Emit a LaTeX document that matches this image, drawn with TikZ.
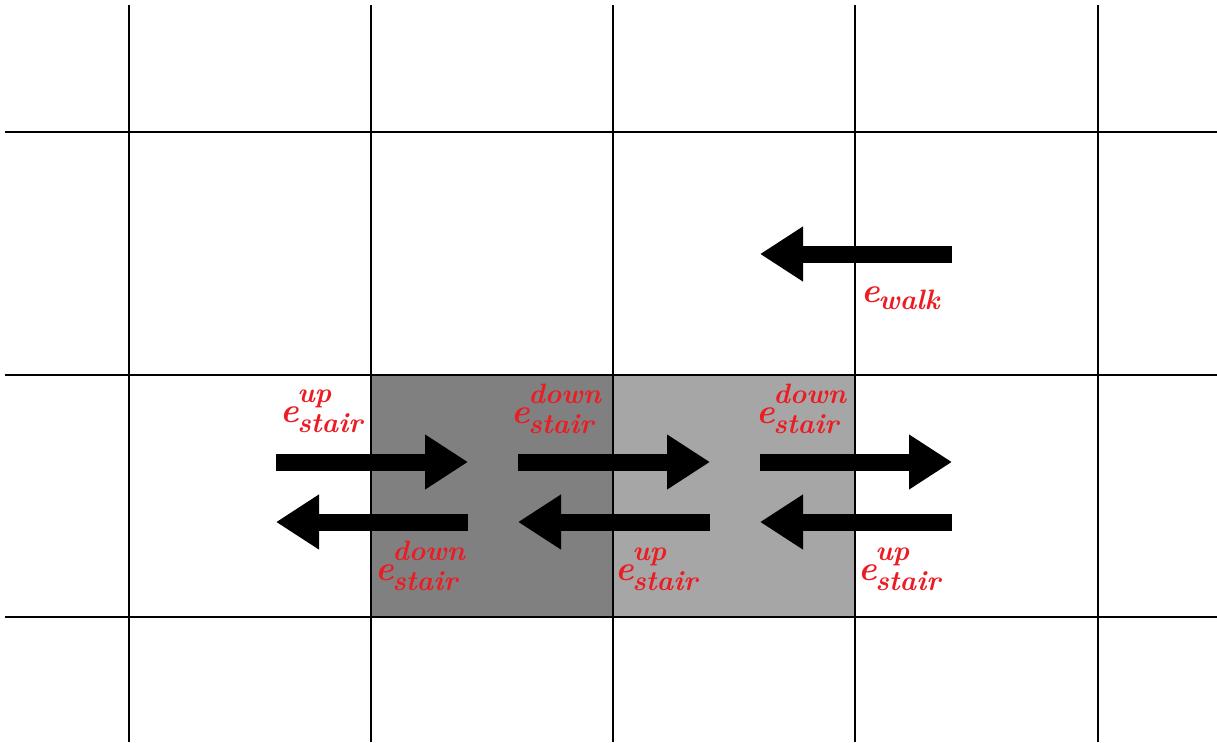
\documentclass[tikz,border=0pt]{standalone}
\usepackage{fontspec}
\usetikzlibrary{arrows.meta}
\definecolor{labred}{RGB}{236,28,36}
\definecolor{darkcell}{RGB}{128,128,128}
\definecolor{lightcell}{RGB}{166,166,166}
\newcommand\elab[2]{\bfseries\itshape{\fontsize{35}{35}\selectfont e}\kern-1.5pt\rlap{\raisebox{20pt}{\fontsize{28}{28}\selectfont #1}}\raisebox{-10pt}{\fontsize{28}{28}\selectfont #2}}
\newcommand\ewalk{\bfseries\itshape{\fontsize{35}{35}\selectfont e}\kern-1.5pt\raisebox{-7pt}{\fontsize{28}{28}\selectfont walk}}
\tikzset{
  gridline/.style={line width=2pt, black},
  blockarrow/.style={line width=17pt, black, -{Triangle[length=43pt,width=52pt]}},
  elabel/.style={anchor=base west, inner sep=0pt, text=labred},
}
\begin{document}
\begin{tikzpicture}[x=1pt,y=-1pt]
\useasboundingbox (0,0) rectangle (1217,742);
\fill[white] (0,0) rectangle (1217,742);
% shaded cells
\fill[darkcell] (371,375) rectangle (613,617);
\fill[lightcell] (613,375) rectangle (855,617);
% grid
\foreach \x in {129,371,613,855,1098} \draw[gridline] (\x,5) -- (\x,742);
\foreach \y in {132,375,617} \draw[gridline] (5,\y) -- (1217,\y);
% arrow end points
\coordinate (r1s) at (276,462); \coordinate (r1e) at (468,462);
\coordinate (r2s) at (518,462); \coordinate (r2e) at (710,462);
\coordinate (r3s) at (760,462); \coordinate (r3e) at (952,462);
\coordinate (l1s) at (468,522); \coordinate (l1e) at (276,522);
\coordinate (l2s) at (710,522); \coordinate (l2e) at (518,522);
\coordinate (l3s) at (952,522); \coordinate (l3e) at (760,522);
\coordinate (ws) at (952,254); \coordinate (we) at (760,254);
\draw[blockarrow] (r1s) -- (r1e);
\draw[blockarrow] (r2s) -- (r2e);
\draw[blockarrow] (r3s) -- (r3e);
\draw[blockarrow] (l1s) -- (l1e);
\draw[blockarrow] (l2s) -- (l2e);
\draw[blockarrow] (l3s) -- (l3e);
\draw[blockarrow] (ws) -- (we);
% labels
\node[elabel] (t1) at (280,422) {\elab{up}{stair}};
\node[elabel] (t2) at (375,580) {\elab{down}{stair}};
\node[elabel] (t3) at (511,423) {\elab{down}{stair}};
\node[elabel] (t4) at (615,580) {\elab{up}{stair}};
\node[elabel] (t5) at (756,423) {\elab{down}{stair}};
\node[elabel] (t6) at (858,580) {\elab{up}{stair}};
\node[elabel] (tw) at (861,302) {\ewalk};
\end{tikzpicture}
\end{document}
